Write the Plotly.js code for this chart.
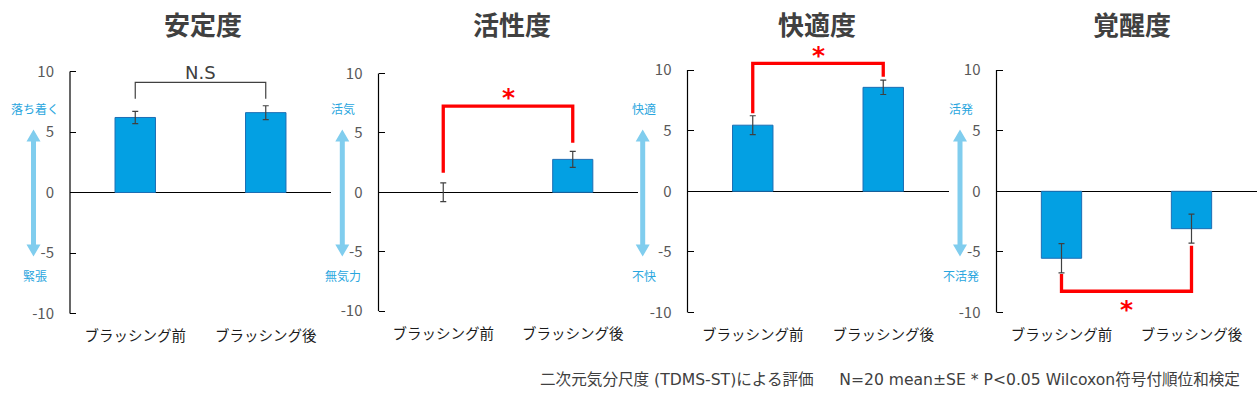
<!DOCTYPE html>
<html><head><meta charset="utf-8">
<script src="https://cdn.plot.ly/plotly-3.0.1.min.js"></script>
<style>body{margin:0;background:#fff}</style>
</head><body><div id="chart" style="width:1257px;height:399px"></div>
<script>
// ---------- data ----------
const categories = ['ブラッシング前', 'ブラッシング後'];
const panelTitles = ['安定度', '活性度', '快適度', '覚醒度'];
const meanStability = [6.2, 6.6];
const seStability = [0.5, 0.57];
const meanActivity = [0, 2.77];
const seActivity = [0.79, 0.67];
const meanComfort = [5.45, 8.57];
const seComfort = [0.78, 0.59];
const meanArousal = [-5.52, -3.08];
const seArousal = [1.21, 1.2];
const yTickVals = [-10, -5, 0, 5, 10];
const yTickText = ['-10', '-5', '0', '5', '10'];
const upperLabels = ['落ち着く', '活気', '快適', '活発'];
const lowerLabels = ['緊張', '無気力', '不快', '不活発'];
const sigLabels = ['N.S', '*', '*', '*'];
// significance brackets (data units): level, left leg end, right leg end
const bracketLevel = [9.1, 7.25, 10.55, -8.24];
const bracketLeftEnd = [7.74, 1.65, 6.43, -6.82];
const bracketRightEnd = [7.74, 4.17, 9.45, -4.48];
const footnote = '二次元気分尺度 (TDMS-ST)による評価\u3000\u00a0\u00a0N=20 mean±SE * P<0.05 Wilcoxon符号付順位和検定';

const means = [meanStability, meanActivity, meanComfort, meanArousal];
const ses = [seStability, seActivity, seComfort, seArousal];

// ---------- layout geometry (pixels) ----------
const W = 1257, H = 399;
const px = x => x / W;
const py = y => 1 - y / H;
const Y_MIN = -11, Y_MAX = 11.2;
const panels = [
  {x0: 70,    x1: 331,    zeroY: 192.5, scale: 12.1,   arrowX: 33.5,  titleX: 203},
  {x0: 378.5, x1: 637.5,  zeroY: 192.3, scale: 11.885, arrowX: 342.3, titleX: 512},
  {x0: 687.5, x1: 948.5,  zeroY: 191.3, scale: 12.13,  arrowX: 642.7, titleX: 817},
  {x0: 996.5, x1: 1256.5, zeroY: 191.3, scale: 12.13,  arrowX: 960,   titleX: 1132}
];
const sigShift = [10, 9, 8, -18]; // pixel offset of the sig label from bracket

const FONT = 'Noto Sans CJK JP, Noto Sans, sans-serif';
const WIDE = 'DejaVu Sans, Noto Sans CJK JP, sans-serif';
const BAR = '#03A0E3', BAR_LINE = '#1C6EB4', ARROW = '#80CDEE', LABEL_BLUE = '#2AA6DE';

const data = [];
const layout = {
  width: W, height: H, autosize: false,
  margin: {l: 0, r: 0, t: 0, b: 0},
  paper_bgcolor: '#fff', plot_bgcolor: 'rgba(0,0,0,0)',
  showlegend: false,
  font: {family: FONT},
  shapes: [], annotations: []
};

panels.forEach((p, i) => {
  const n = i === 0 ? '' : String(i + 1);
  const xa = 'x' + n, ya = 'y' + n;
  const top = p.zeroY - Y_MAX * p.scale;
  const bottom = p.zeroY - Y_MIN * p.scale;

  layout['xaxis' + n] = {
    domain: [px(p.x0), px(p.x1)], range: [-0.5, 1.5], anchor: ya,
    tickvals: [0, 1], ticktext: categories,
    showgrid: false, zeroline: false, showline: false, ticks: '',
    tickfont: {size: 14.5, color: '#1a1a1a', family: FONT}, fixedrange: true
  };
  layout['yaxis' + n] = {
    domain: [py(bottom), py(top)], range: [Y_MIN, Y_MAX], anchor: xa,
    tickvals: yTickVals, ticktext: yTickText,
    ticks: 'inside', ticklen: 6, tickwidth: 1, tickcolor: '#000',
    showgrid: false, showline: false,
    zeroline: true, zerolinecolor: '#000', zerolinewidth: 1,
    tickfont: {size: 15, color: '#595959', family: FONT},
    ticklabelstandoff: 15, fixedrange: true
  };

  data.push({
    type: 'bar', x: [0, 1], y: means[i], width: 0.31,
    xaxis: xa, yaxis: ya, hoverinfo: 'skip',
    marker: {color: BAR, line: {color: BAR_LINE, width: means[i].map(v => (v === 0 ? 0 : 1))}},
    error_y: {type: 'data', array: ses[i], visible: true, color: '#404040', thickness: 1.2, width: 3}
  });

  // y axis line from -10 to 10
  layout.shapes.push({
    type: 'line', xref: 'paper', yref: ya, x0: px(p.x0), x1: px(p.x0), y0: -10, y1: 10,
    line: {color: '#000', width: 1.2}
  });

  // significance bracket
  const red = sigLabels[i] === '*';
  layout.shapes.push({
    type: 'path', xref: xa, yref: ya, layer: 'above',
    path: `M 0,${bracketLeftEnd[i]} L 0,${bracketLevel[i]} L 1,${bracketLevel[i]} L 1,${bracketRightEnd[i]}`,
    line: {color: red ? '#FF0000' : '#404040', width: red ? 3.3 : 1.2}
  });
  layout.annotations.push({
    xref: xa, yref: ya, x: 0.5, y: bracketLevel[i], yshift: sigShift[i],
    text: red ? '<b>*</b>' : sigLabels[i], showarrow: false,
    font: red ? {size: 25, color: '#FF0000', family: WIDE} : {size: 18, color: '#404040', family: WIDE},
    xanchor: 'center', yanchor: 'middle'
  });

  // title
  layout.annotations.push({
    xref: 'paper', yref: 'paper', x: px(p.titleX), y: py(23.5),
    text: '<b>' + panelTitles[i] + '</b>', showarrow: false,
    font: {size: 26, color: '#404040', family: FONT}, xanchor: 'center', yanchor: 'middle'
  });

  // double arrow
  const ax = p.arrowX, yt = 129.5, yb = 256.5, hw = 7, sw = 2.5, hl = 12;
  const pts = [
    [ax, yt], [ax + hw, yt + hl], [ax + sw, yt + hl], [ax + sw, yb - hl], [ax + hw, yb - hl],
    [ax, yb], [ax - hw, yb - hl], [ax - sw, yb - hl], [ax - sw, yt + hl], [ax - hw, yt + hl]
  ];
  layout.shapes.push({
    type: 'path', xref: 'paper', yref: 'paper',
    path: 'M ' + pts.map(q => px(q[0]) + ',' + py(q[1])).join(' L ') + ' Z',
    fillcolor: ARROW, line: {width: 0}
  });
  layout.annotations.push({
    xref: 'paper', yref: 'paper', x: px(ax + 1), y: py(108.5), text: upperLabels[i], showarrow: false,
    font: {size: 12, color: LABEL_BLUE, family: FONT}, xanchor: 'center', yanchor: 'middle'
  });
  layout.annotations.push({
    xref: 'paper', yref: 'paper', x: px(ax + 1), y: py(275.5), text: lowerLabels[i], showarrow: false,
    font: {size: 12, color: LABEL_BLUE, family: FONT}, xanchor: 'center', yanchor: 'middle'
  });
});

layout.annotations.push({
  xref: 'paper', yref: 'paper', x: px(1242), y: py(380), text: footnote, showarrow: false,
  font: {size: 15.6, color: '#404040', family: WIDE}, xanchor: 'right', yanchor: 'middle'
});

Plotly.newPlot('chart', data, layout, {displayModeBar: false, staticPlot: true});
</script>
</body></html>
